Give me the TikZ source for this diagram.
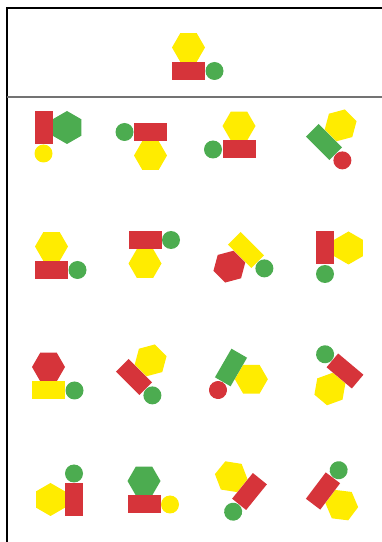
\documentclass[tikz,border=0pt]{standalone}
\definecolor{cy}{RGB}{255,236,0}
\definecolor{cr}{RGB}{214,52,58}
\definecolor{cg}{RGB}{76,172,80}
\newcommand\shapefig[6]{%
\begin{scope}[shift={(#1,542-#2)},#3]
\fill[#4] (16.5,23.5) -- (8.25,37.79) -- (-8.25,37.79) -- (-16.5,23.5) -- (-8.25,9.21) -- (8.25,9.21) -- cycle;
\fill[#5] (-16.5,-9) rectangle (16.5,9);
\fill[#6] (26,0) circle (9);
\end{scope}}
\begin{document}
\begin{tikzpicture}[x=1pt,y=1pt]
\useasboundingbox (0,0) rectangle (382,542);
\fill[white] (0,0) rectangle (382,542);
% frame
\draw[line width=2pt,black] (7,0) -- (7,542-8.5);
\draw[line width=2pt,black] (6,542-8.5) -- (382,542-8.5);
\draw[line width=1.8pt,black!55] (7,542-97) -- (382,542-97);
% top figure
\shapefig{188.5}{71}{rotate=0}{cy}{cr}{cg}
% row 1
\shapefig{43.5}{127.5}{rotate=-90}{cg}{cr}{cy}
\shapefig{150.5}{132}{rotate=180}{cy}{cr}{cg}
\shapefig{239}{149.5}{xscale=-1}{cy}{cr}{cg}
\shapefig{324}{142}{rotate=-45}{cy}{cg}{cr}
% row 2
\shapefig{51.5}{270}{rotate=0}{cy}{cr}{cg}
\shapefig{145}{240}{yscale=-1}{cy}{cr}{cg}
\shapefig{246}{250}{rotate=-45,yscale=-1}{cr}{cy}{cg}
\shapefig{325}{248}{rotate=-90}{cy}{cr}{cg}
% row 3
\shapefig{48.5}{390.5}{rotate=0}{cr}{cy}{cg}
\shapefig{134}{377}{rotate=-45}{cy}{cr}{cg}
\shapefig{231}{367.5}{rotate=240}{cy}{cg}{cr}
\shapefig{345}{371}{rotate=140}{cy}{cr}{cg}
% row 4
\shapefig{74}{499.5}{rotate=90}{cy}{cr}{cg}
\shapefig{144}{504.5}{rotate=0}{cg}{cr}{cy}
\shapefig{249.5}{491.5}{rotate=231,yscale=-1}{cy}{cr}{cg}
\shapefig{323}{491}{rotate=53,yscale=-1}{cy}{cr}{cg}
\end{tikzpicture}
\end{document}
